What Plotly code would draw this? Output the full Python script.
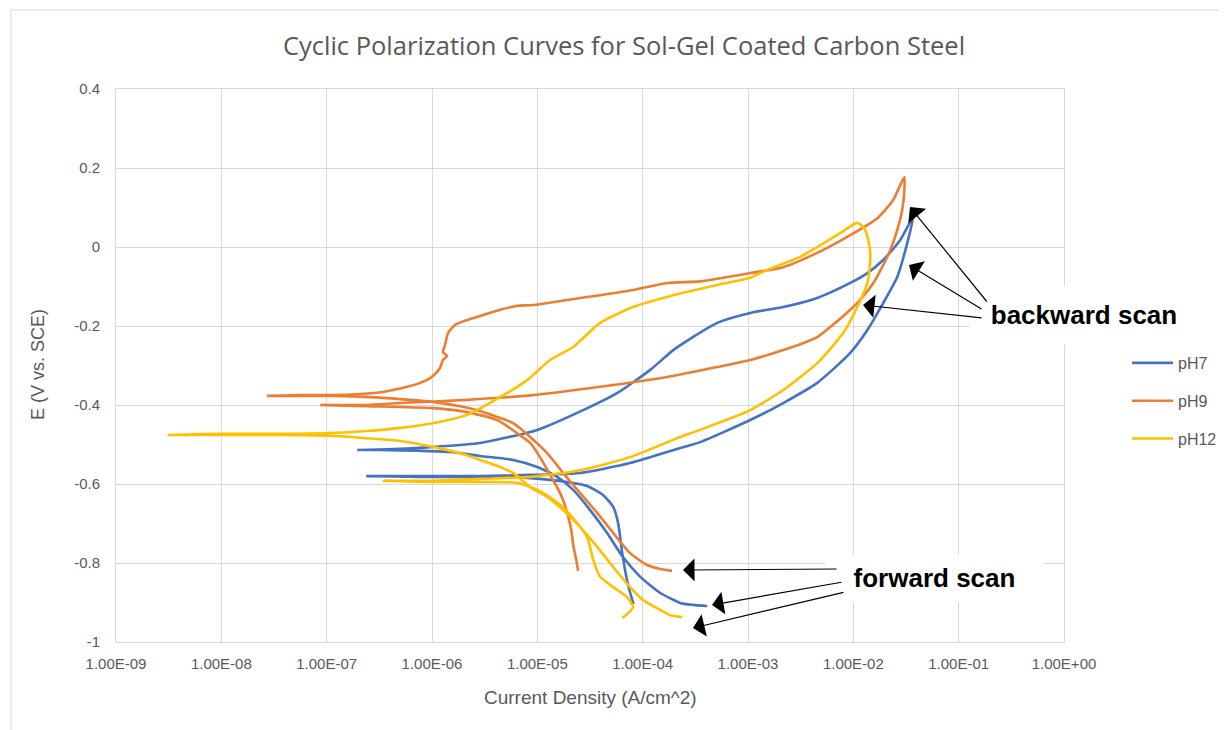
import plotly.graph_objects as go

# ---------------- data ----------------
x_tick_vals = [1e-9, 1e-8, 1e-7, 1e-6, 1e-5, 1e-4, 1e-3, 1e-2, 1e-1, 1e0]
x_tick_text = ["1.00E-09", "1.00E-08", "1.00E-07", "1.00E-06", "1.00E-05",
               "1.00E-04", "1.00E-03", "1.00E-02", "1.00E-01", "1.00E+00"]
y_tick_vals = [-1, -0.8, -0.6, -0.4, -0.2, 0, 0.2, 0.4]
y_tick_text = ["-1", "-0.8", "-0.6", "-0.4", "-0.2", "0", "0.2", "0.4"]

series_names = ["pH7", "pH9", "pH12"]

I_ph7 = [4.1e-4, 3.0e-4, 2.27e-4, 1.47e-4, 9.5e-5, 6.5e-5, 4.6e-5, 3.17e-5, 2.19e-5, 1.54e-5,
         1.0e-5, 5.9e-6, 2.86e-6, 1.49e-6, 7.7e-7, 3.2e-7, 1.95e-7,
         5.0e-7, 1.02e-6, 2.86e-6, 1.0e-5, 2.72e-5, 5.7e-5, 1.18e-4, 1.95e-4, 3.0e-4, 5.1e-4,
         1.05e-3, 2.16e-3, 4.54e-3, 9.35e-3, 1.36e-2, 1.92e-2, 2.79e-2, 3.7e-2,
         3.25e-2, 2.61e-2, 1.92e-2, 1.36e-2, 9.35e-3, 4.54e-3, 2.16e-3, 1.05e-3, 3.5e-4, 2.27e-4,
         7.6e-5, 2.55e-5, 8.55e-6, 2.86e-6, 7.7e-7, 2.37e-7,
         7.7e-7, 2.86e-6, 5.2e-6, 1.06e-5, 1.92e-5, 2.97e-5, 4.2e-5, 5.25e-5, 5.85e-5, 6.4e-5,
         7.1e-5, 7.8e-5, 8.2e-5]
E_ph7 = [-0.909, -0.906, -0.901, -0.876, -0.835, -0.785, -0.724, -0.666, -0.615, -0.582,
         -0.557, -0.539, -0.529, -0.519, -0.516, -0.514, -0.514,
         -0.511, -0.506, -0.496, -0.463, -0.413, -0.370, -0.311, -0.261, -0.228, -0.192,
         -0.167, -0.152, -0.129, -0.091, -0.066, -0.033, 0.018, 0.076,
         0.010, -0.076, -0.142, -0.210, -0.268, -0.344, -0.395, -0.438, -0.494, -0.509,
         -0.547, -0.572, -0.577, -0.580, -0.580, -0.580,
         -0.582, -0.582, -0.582, -0.587, -0.595, -0.605, -0.628, -0.658, -0.699, -0.775,
         -0.843, -0.886, -0.904]

I_ph9 = [1.9e-4, 1.47e-4, 1.10e-4, 7.6e-5, 5.25e-5, 3.7e-5, 2.55e-5, 1.76e-5, 1.24e-5, 8.55e-6,
         5.9e-6, 4.15e-6, 2.86e-6, 1.85e-6, 1.02e-6, 5.0e-7, 2.6e-7, 1.15e-7, 5.6e-8, 2.7e-8,
         5.6e-8, 1.15e-7, 2.07e-7, 3.4e-7, 5.8e-7, 7.7e-7, 9.6e-7, 1.12e-6, 1.19e-6, 1.27e-6,
         1.39e-6, 1.27e-6, 1.33e-6, 1.42e-6, 1.66e-6, 2.15e-6, 3.06e-6, 4.43e-6, 6.4e-6, 9.1e-6,
         1.92e-5, 3.95e-5, 8.1e-5, 1.71e-4, 3.5e-4, 1.05e-3, 2.16e-3, 4.54e-3, 9.35e-3, 1.69e-2,
         2.39e-2, 3.05e-2,
         3.05e-2, 2.91e-2, 2.61e-2, 2.24e-2, 1.92e-2, 1.55e-2, 1.16e-2, 9.35e-3, 6.4e-3, 4.54e-3,
         2.16e-3, 1.05e-3, 5.1e-4, 1.71e-4, 3.95e-5, 9.1e-6, 2.15e-6, 5.0e-7, 2.4e-7, 8.9e-8,
         2.4e-7, 1.02e-6, 2.15e-6, 4.15e-6, 6.4e-6, 8.55e-6, 1.06e-5, 1.32e-5, 1.54e-5, 1.76e-5,
         1.92e-5, 2.1e-5, 2.19e-5, 2.34e-5, 2.44e-5]
E_ph9 = [-0.820, -0.815, -0.805, -0.775, -0.724, -0.673, -0.623, -0.572, -0.522, -0.481,
         -0.446, -0.430, -0.415, -0.403, -0.392, -0.385, -0.380, -0.377, -0.377, -0.377,
         -0.375, -0.375, -0.372, -0.367, -0.354, -0.344, -0.332, -0.316, -0.306, -0.286,
         -0.276, -0.266, -0.248, -0.218, -0.197, -0.185, -0.172, -0.159, -0.149, -0.147,
         -0.134, -0.122, -0.109, -0.091, -0.087, -0.066, -0.051, -0.015, 0.030, 0.073,
         0.119, 0.177,
         0.144, 0.094, 0.043, -0.008, -0.046, -0.091, -0.134, -0.159, -0.197, -0.228,
         -0.261, -0.286, -0.304, -0.329, -0.354, -0.375, -0.387, -0.395, -0.400, -0.400,
         -0.403, -0.408, -0.418, -0.438, -0.471, -0.496, -0.532, -0.577, -0.608, -0.641,
         -0.673, -0.716, -0.754, -0.792, -0.820]

I_ph12 = [2.37e-4, 1.82e-4, 1.47e-4, 1.01e-4, 7.6e-5, 5.25e-5, 3.7e-5, 2.55e-5, 1.76e-5, 1.24e-5,
          8.55e-6, 5.9e-6, 4.15e-6, 2.86e-6, 2.15e-6, 1.02e-6, 5.0e-7, 2.4e-7, 1.08e-7, 3.6e-8,
          9.7e-9, 3.1e-9,
          9.7e-9, 3.6e-8, 1.08e-7, 2.4e-7, 5.0e-7, 1.02e-6, 2.15e-6, 4.43e-6, 8.0e-6, 1.32e-5,
          2.19e-5, 3.95e-5, 8.1e-5, 1.95e-4, 5.1e-4, 1.05e-3, 1.52e-3, 3.13e-3, 4.54e-3, 7.5e-3,
          1.09e-2,
          1.27e-2, 1.42e-2, 1.45e-2, 1.36e-2, 1.09e-2, 8.0e-3, 4.54e-3, 2.16e-3, 1.05e-3, 3.5e-4,
          2.27e-4, 7.6e-5, 2.55e-5, 8.55e-6, 2.86e-6, 9.6e-7, 3.5e-7,
          9.6e-7, 2.86e-6, 6.4e-6, 1.06e-5, 1.65e-5, 2.39e-5, 2.97e-5, 3.39e-5, 3.95e-5, 5.25e-5,
          7.1e-5, 8.1e-5, 7.3e-5, 6.4e-5]
E_ph12 = [-0.937, -0.932, -0.919, -0.894, -0.861, -0.810, -0.759, -0.709, -0.666, -0.633,
          -0.608, -0.572, -0.554, -0.539, -0.527, -0.506, -0.491, -0.484, -0.478, -0.476,
          -0.476, -0.476,
          -0.473, -0.473, -0.471, -0.466, -0.458, -0.446, -0.425, -0.380, -0.337, -0.286,
          -0.253, -0.192, -0.152, -0.122, -0.096, -0.078, -0.058, -0.025, 0.0, 0.035,
          0.061,
          0.048, 0.005, -0.033, -0.091, -0.152, -0.218, -0.294, -0.362, -0.413, -0.463,
          -0.481, -0.532, -0.565, -0.582, -0.587, -0.592, -0.592,
          -0.595, -0.595, -0.597, -0.618, -0.653, -0.699, -0.734, -0.792, -0.835, -0.861,
          -0.886, -0.911, -0.927, -0.939]

colors = ["#4472C4", "#ED7D31", "#FFC000"]

# ---------------- figure ----------------
GRID = "#D9D9D9"
TXT = "#595959"
FONT = "Liberation Sans"
W, H = 1219, 722          # page body adds an 8px margin
OFF = 8

fig = go.Figure()
for name, I, E, c in zip(series_names, [I_ph7, I_ph9, I_ph12], [E_ph7, E_ph9, E_ph12], colors):
    fig.add_trace(go.Scatter(x=I, y=E, mode="lines", name=name, legendgroup=name,
                             line=dict(color=c, width=2.6, shape="spline", smoothing=0.6)))

PL, PT, PR, PB = 116, 89, 1064, 642   # plot area in screen pixels
PW, PH = float(PR - PL), float(PB - PT)

def px(xs):
    return (xs - PL) / PW
def py(ys):
    return (PB - ys) / PH

fig.update_layout(
    width=W, height=H,
    margin=dict(l=PL - OFF, r=W - (PR - OFF), t=PT - OFF, b=H - (PB - OFF), autoexpand=False),
    paper_bgcolor="white", plot_bgcolor="white",
    font=dict(family=FONT, color=TXT),
    title=dict(text="Cyclic Polarization Curves for Sol-Gel Coated Carbon Steel",
               x=(624 - OFF) / W, xanchor="center", y=1 - (46 - OFF) / H, yanchor="middle",
               font=dict(family="Open Sans", size=25.5, color=TXT)),
    showlegend=True,
    legend=dict(x=px(1127), xanchor="left", y=py(346), yanchor="top",
                font=dict(family=FONT, size=16, color=TXT), itemwidth=41,
                tracegroupgap=14, bgcolor="rgba(0,0,0,0)"),
)

fig.update_xaxes(type="log", range=[-9, 0], tickvals=x_tick_vals, ticktext=x_tick_text,
                 showgrid=True, gridcolor=GRID, gridwidth=1, showline=True, linecolor=GRID,
                 linewidth=1, mirror=True, ticks="", zeroline=False,
                 tickfont=dict(family=FONT, size=15, color=TXT), ticklabelstandoff=8)
fig.update_yaxes(range=[-1, 0.4], tickvals=y_tick_vals, ticktext=y_tick_text,
                 showgrid=True, gridcolor=GRID, gridwidth=1, showline=True, linecolor=GRID,
                 linewidth=1, mirror=True, ticks="", zeroline=False,
                 tickfont=dict(family=FONT, size=15, color=TXT), ticklabelstandoff=12)

# chart-area border
fig.add_shape(type="rect", xref="paper", yref="paper", x0=px(11), x1=px(1245),
              y0=py(745), y1=py(10), line=dict(color=GRID, width=1), layer="below")

ann = []
# axis titles
ann.append(dict(text="Current Density (A/cm^2)", xref="paper", yref="paper",
                x=px(590), y=py(697), xanchor="center", yanchor="middle", showarrow=False,
                font=dict(family=FONT, size=19, color=TXT)))
ann.append(dict(text="E (V vs. SCE)", xref="paper", yref="paper", textangle=-90,
                x=px(38), y=py(365), xanchor="center", yanchor="middle", showarrow=False,
                font=dict(family=FONT, size=18, color=TXT)))
# callout labels
ann.append(dict(text="<b>backward scan</b>", xref="paper", yref="paper",
                x=px(1084), y=py(315), xanchor="center", yanchor="middle",
                showarrow=False, bgcolor="white", width=226, height=56,
                font=dict(family=FONT, size=26, color="black")))
ann.append(dict(text="<b>forward scan</b>", xref="paper", yref="paper",
                x=px(934), y=py(578), xanchor="center", yanchor="middle",
                showarrow=False, bgcolor="white", width=215, height=44,
                font=dict(family=FONT, size=26, color="black")))
# arrows: (tip_x, tip_y, tail_x, tail_y) in screen pixels
arrows = [(910, 207, 988, 303), (909, 265, 983, 310), (863, 305, 983, 318),
          (683, 570, 838, 569), (712, 605, 843, 582), (693, 628, 845, 592)]
for tx, ty, sx, sy in arrows:
    ann.append(dict(text="", xref="paper", yref="paper", x=px(tx), y=py(ty),
                    ax=sx - tx, ay=sy - ty, showarrow=True, arrowhead=1,
                    arrowsize=3.2, arrowwidth=1.2, arrowcolor="black", standoff=0))
fig.update_layout(annotations=ann)

fig.write_html("out.html")
